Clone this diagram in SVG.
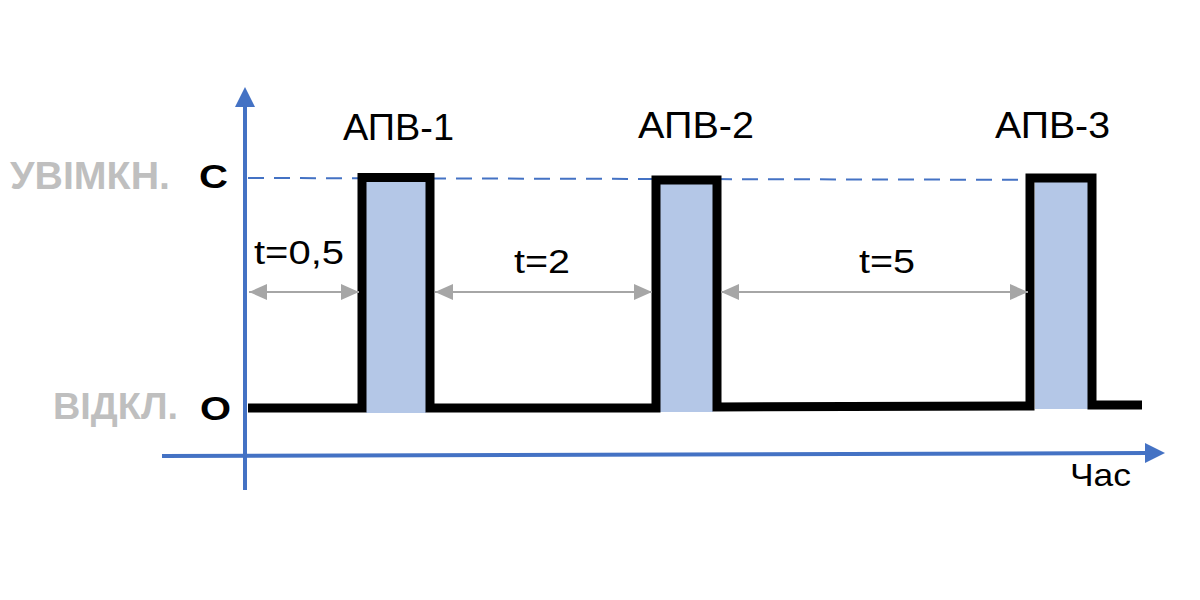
<svg xmlns="http://www.w3.org/2000/svg" width="1200" height="600" viewBox="0 0 1200 600">
  <style>
    .axis { stroke: #4472C4; stroke-width: 4; fill: none; }
    .axhead { fill: #4472C4; }
    .dash { stroke: #4472C4; stroke-width: 2; stroke-dasharray: 16 10; fill: none; }
    .wave { stroke: #000; stroke-width: 9; fill: none; stroke-linejoin: miter; stroke-linecap: butt; }
    .pulse { fill: #B4C7E7; }
    .dim { stroke: #A6A6A6; stroke-width: 2; fill: none; }
    .state { font-family: "Liberation Sans", Arial, sans-serif; font-weight: bold; fill: #BFBFBF; }
    .lvl { font-family: "Liberation Sans", Arial, sans-serif; font-weight: bold; fill: #000; }
    .lbl { font-family: "Liberation Sans", Arial, sans-serif; fill: #000; }
  </style>
  <defs>
    <marker id="ah" markerUnits="userSpaceOnUse" markerWidth="18" markerHeight="16" refX="18" refY="8" orient="auto-start-reverse">
      <path d="M0,0 L18,8 L0,16 Z" fill="#A6A6A6"/>
    </marker>
  </defs>

  <rect width="1200" height="600" fill="#fff"/>

  <g id="pulses">
    <rect class="pulse" x="366" y="181" width="60" height="232"/>
    <rect class="pulse" x="660" y="184" width="53" height="228"/>
    <rect class="pulse" x="1035" y="182" width="53" height="227"/>
  </g>

  <g id="axes">
    <line class="axis" x1="245" y1="490" x2="245" y2="104"/>
    <polygon class="axhead" points="245,87 235,107 255,107"/>
    <line class="axis" x1="162" y1="456" x2="1148" y2="453"/>
    <polygon class="axhead" points="1165,453 1145,443 1145,463"/>
  </g>

  <g id="connectors">
    <line class="dash" x1="248" y1="178" x2="1102" y2="180"/>
    <path class="wave" d="M248,408 L362,408 L362,177.5 L430,177.5 L430,408 L656,408 L656,180 L717,180 L717,407 L1030,406 L1030,178 L1092,178 L1092,405 L1142,405"/>
    <line class="dim" x1="249" y1="292" x2="359" y2="292" marker-start="url(#ah)" marker-end="url(#ah)"/>
    <line class="dim" x1="435" y1="292" x2="652" y2="292" marker-start="url(#ah)" marker-end="url(#ah)"/>
    <line class="dim" x1="721" y1="292" x2="1028" y2="292" marker-start="url(#ah)" marker-end="url(#ah)"/>
  </g>

  <g id="labels">
    <text class="state" x="10" y="189" font-size="38" textLength="160" lengthAdjust="spacingAndGlyphs">УВІМКН.</text>
    <text class="state" x="53" y="419" font-size="36" textLength="125" lengthAdjust="spacingAndGlyphs">ВІДКЛ.</text>
    <text class="lvl" x="199" y="188" font-size="33" textLength="29" lengthAdjust="spacingAndGlyphs">С</text>
    <text class="lvl" x="200" y="420" font-size="33" textLength="31" lengthAdjust="spacingAndGlyphs">О</text>
    <text class="lbl" x="343" y="140" font-size="37" textLength="111" lengthAdjust="spacingAndGlyphs">АПВ-1</text>
    <text class="lbl" x="638" y="138" font-size="37" textLength="116" lengthAdjust="spacingAndGlyphs">АПВ-2</text>
    <text class="lbl" x="995" y="138" font-size="37" textLength="115" lengthAdjust="spacingAndGlyphs">АПВ-3</text>
    <text class="lbl" x="254" y="264" font-size="34" textLength="90" lengthAdjust="spacingAndGlyphs">t=0,5</text>
    <text class="lbl" x="514" y="273" font-size="33" textLength="56" lengthAdjust="spacingAndGlyphs">t=2</text>
    <text class="lbl" x="859" y="273" font-size="33" textLength="56" lengthAdjust="spacingAndGlyphs">t=5</text>
    <text class="lbl" x="1070" y="486" font-size="32" textLength="61" lengthAdjust="spacingAndGlyphs">Час</text>
  </g>
</svg>
